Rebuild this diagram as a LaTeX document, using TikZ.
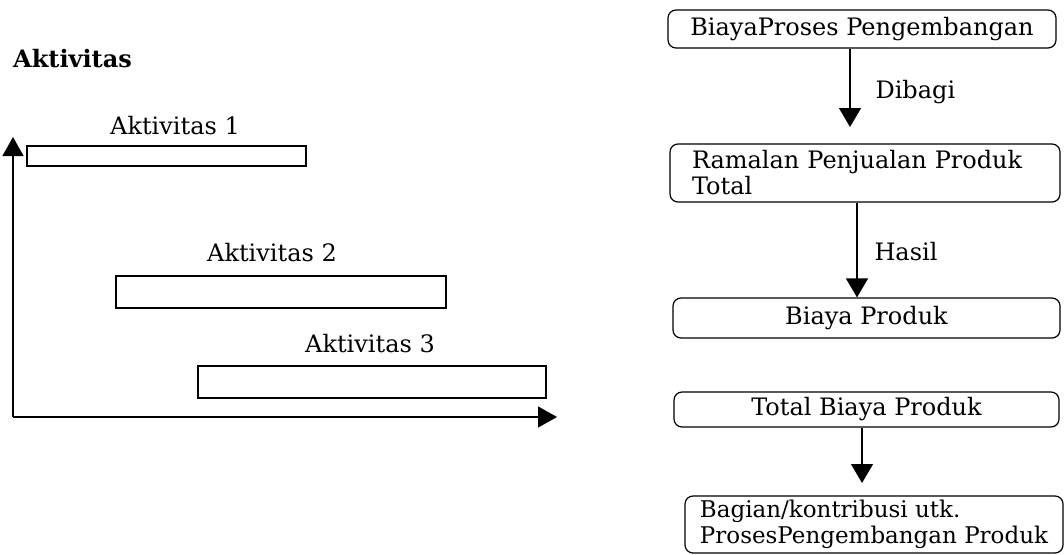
\documentclass[tikz,border=0pt]{standalone}
\usepackage{fontspec}
\setmainfont{DejaVu Serif}
\usetikzlibrary{arrows.meta}
\tikzset{
  bar/.style={draw, line width=1.3pt, inner sep=0pt},
  stage/.style={draw, line width=1.2pt, rounded corners=8pt, inner sep=0pt},
  axis/.style={line width=1.3pt, -{Triangle[length=19pt, width=21pt]}},
  flow/.style={line width=1.2pt, -{Triangle[length=19pt, width=22pt]}},
}
\begin{document}
\begin{tikzpicture}[x=1pt, y=-1pt, font=\fontsize{24}{26}\selectfont]
  \useasboundingbox (0, 0) rectangle (1064, 554) ;
  % left: activities over time
  \node[font=\fontsize{24}{26}\selectfont\bfseries, anchor=west, inner sep=0pt] (title) at (13, 59) {Aktivitas} ;
  \coordinate (origin) at (13, 417) ;
  \coordinate (ytip) at (13, 137) ;
  \coordinate (xtip) at (557, 417) ;
  \draw[axis] (origin) -- (ytip) ;
  \draw[axis] (origin) -- (xtip) ;
  \node[bar, minimum width=279pt, minimum height=20pt] (a1) at (166.5, 156) {} ;
  \node[bar, minimum width=330pt, minimum height=32pt] (a2) at (281, 292) {} ;
  \node[bar, minimum width=348pt, minimum height=32pt] (a3) at (372, 382) {} ;
  \node (l1) at (175, 126) {Aktivitas 1} ;
  \node (l2) at (272, 253) {Aktivitas 2} ;
  \node (l3) at (370, 344) {Aktivitas 3} ;
  % right: cost flow
  \node[stage, minimum width=388pt, minimum height=38pt] (b1) at (862, 29) {BiayaProses Pengembangan} ;
  \node[stage, minimum width=390pt, minimum height=58pt, text width=346pt, align=left] (b2) at (865, 173) {Ramalan Penjualan Produk\\Total} ;
  \node[stage, minimum width=387pt, minimum height=40pt] (b3) at (866.5, 318) {Biaya Produk} ;
  \node[stage, minimum width=385pt, minimum height=35pt] (b4) at (866.5, 409.5) {Total Biaya Produk} ;
  \node[stage, minimum width=378pt, minimum height=57pt, align=left, font=\fontsize{23}{26}\selectfont] (b5) at (874, 524.5) {Bagian/kontribusi utk.\\ProsesPengembangan Produk} ;
  \coordinate (t1) at (850, 127) ;
  \coordinate (t4) at (862, 483) ;
  \draw[flow] (b1.south -| t1) -- (t1) ;
  \draw[flow] (b2.south -| 857, 0) -- (b3.north -| 857, 0) ;
  \draw[flow] (b4.south -| t4) -- (t4) ;
  \node[anchor=west] (d1) at (872, 92) {Dibagi} ;
  \node[anchor=west] (d2) at (871, 252) {Hasil} ;
\end{tikzpicture}
\end{document}
